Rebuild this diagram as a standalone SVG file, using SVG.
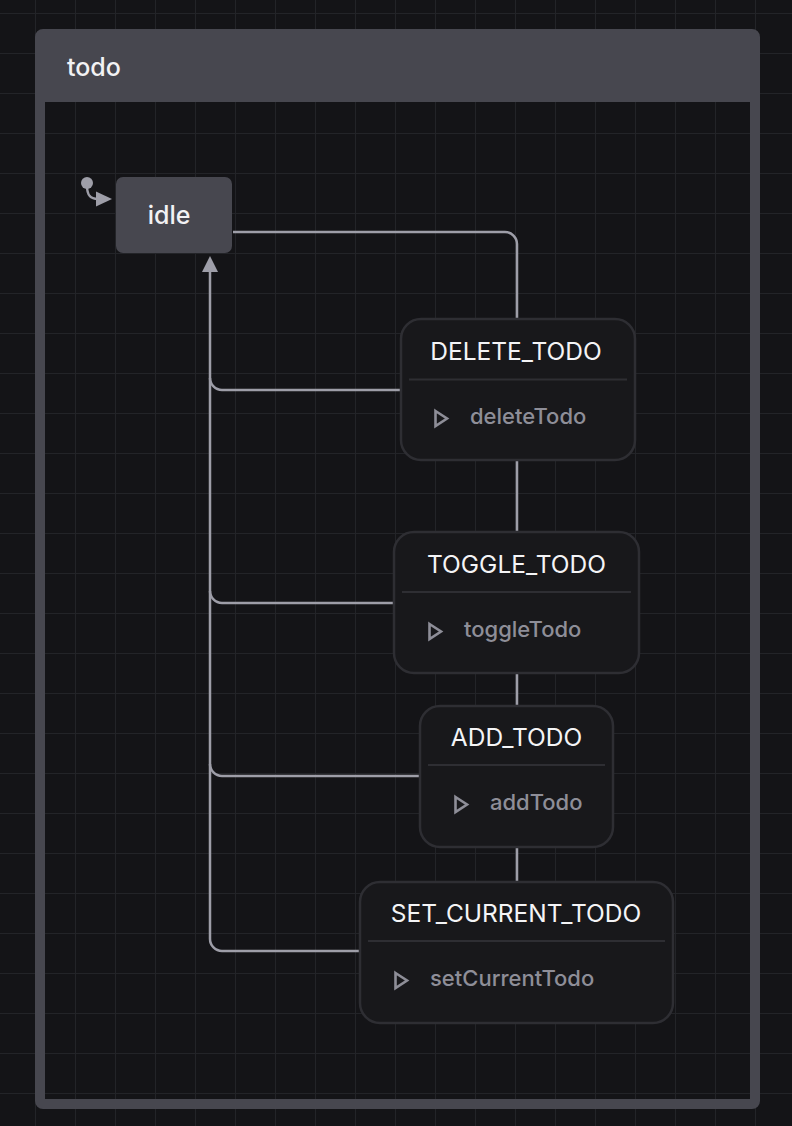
<svg xmlns="http://www.w3.org/2000/svg" width="792" height="1126" viewBox="0 0 792 1126">
  <defs>
    <pattern id="grid" patternUnits="userSpaceOnUse" x="35" y="13" width="40" height="40">
      <path d="M0,0 H40 M0,0 V40" fill="none" stroke="#232428" stroke-width="2"/>
    </pattern>
    <style>
      .bg { fill: #141417; }
      .container { fill: #47474f; fill-rule: evenodd; }
      .title { font-family: Inter, "Open Sans", sans-serif; font-size: 25px; font-weight: 500; fill: #f2f2f4; }
      .state { fill: #47474f; }
      .statelabel { font-family: Inter, "Open Sans", sans-serif; font-size: 25px; font-weight: 500; fill: #f2f2f4; text-anchor: middle; }
      .event { fill: #18181b; stroke: #2e2e33; stroke-width: 2.5; }
      .sep { stroke: #2e2e33; stroke-width: 2; }
      .evlabel { font-family: Inter, "Open Sans", sans-serif; font-size: 24.5px; font-weight: 400; fill: #f4f4f6; text-anchor: middle; }
      .action { font-family: Inter, "Open Sans", sans-serif; font-size: 22px; font-weight: 500; fill: #8e8e98; }
      .tri { fill: none; stroke: #8e8e98; stroke-width: 2.6; stroke-linejoin: miter; }
      .edge { fill: none; stroke: #9e9ea8; stroke-width: 2.5; }
      .head { fill: #9e9ea8; }
    </style>
  </defs>
  <rect class="bg" x="0" y="0" width="792" height="1126"/>
  <rect x="0" y="0" width="792" height="1126" fill="url(#grid)"/>

  <g id="todo">
    <path class="container" d="M43,29 H752 A8,8 0 0 1 760,37 V1101 A8,8 0 0 1 752,1109 H43 A8,8 0 0 1 35,1101 V37 A8,8 0 0 1 43,29 Z M45,102 V1099 H750 V102 Z"/>
    <text class="title" x="67" y="75.5">todo</text>
  </g>

  <g id="connectors">
    <circle cx="87" cy="183" r="6" class="head"/>
    <path class="edge" d="M87,186 C87,195 90,199 98,199"/>
    <polygon class="head" points="112,199 96,191.5 96,206.5"/>

    <path class="edge" d="M233,232 H505 A12,12 0 0 1 517,244 V319"/>
    <path class="edge" d="M517,460 V532"/>
    <path class="edge" d="M517,673 V706"/>
    <path class="edge" d="M517,847 V882"/>

    <path class="edge" d="M401,390 H222 A12,12 0 0 1 210,378 V270"/>
    <path class="edge" d="M394,603 H222 A12,12 0 0 1 210,591 V378"/>
    <path class="edge" d="M420,776 H222 A12,12 0 0 1 210,764 V591"/>
    <path class="edge" d="M360,951 H222 A12,12 0 0 1 210,939 V764"/>
    <polygon class="head" points="210,256 218,272 202,272"/>
  </g>

  <g id="idle">
    <rect class="state" x="116" y="177" width="116" height="76" rx="7"/>
    <text class="statelabel" x="169" y="223.5">idle</text>
  </g>

  <g id="delete_todo">
    <rect class="event" x="401" y="319" width="234" height="141" rx="20"/>
    <text class="evlabel" x="516" y="359.5">DELETE_TODO</text>
    <line class="sep" x1="409" y1="379.5" x2="627" y2="379.5"/>
    <polygon class="tri" points="435.5,411 447,418.5 435.5,426"/>
    <text class="action" x="470" y="423.5">deleteTodo</text>
  </g>

  <g id="toggle_todo">
    <rect class="event" x="394" y="532" width="245" height="141" rx="20"/>
    <text class="evlabel" x="516.5" y="572.5">TOGGLE_TODO</text>
    <line class="sep" x1="402" y1="592" x2="631" y2="592"/>
    <polygon class="tri" points="429.5,624 441,631.5 429.5,639"/>
    <text class="action" x="464" y="636.5">toggleTodo</text>
  </g>

  <g id="add_todo">
    <rect class="event" x="420" y="706" width="193" height="141" rx="20"/>
    <text class="evlabel" x="516.5" y="746">ADD_TODO</text>
    <line class="sep" x1="428" y1="765" x2="605" y2="765"/>
    <polygon class="tri" points="455.5,797 467,804.5 455.5,812"/>
    <text class="action" x="490" y="809.5">addTodo</text>
  </g>

  <g id="set_current_todo">
    <rect class="event" x="360" y="882" width="313" height="141" rx="20"/>
    <text class="evlabel" x="516" y="922">SET_CURRENT_TODO</text>
    <line class="sep" x1="368" y1="941" x2="665" y2="941"/>
    <polygon class="tri" points="395.5,973 407,980.5 395.5,988"/>
    <text class="action" x="430" y="986">setCurrentTodo</text>
  </g>
</svg>
